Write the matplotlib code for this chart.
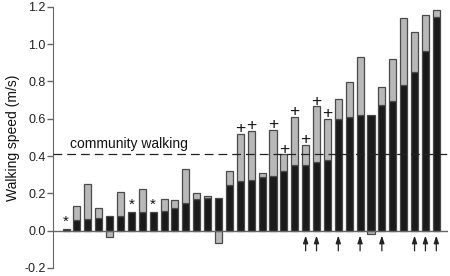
import numpy as np
import matplotlib
matplotlib.use("Agg")
import matplotlib.pyplot as plt

plt.rcParams['font.family'] = ['Liberation Sans', 'DejaVu Sans']

# baseline walking speed (black) and change after training (gray)
baseline = [0.008, 0.060, 0.064, 0.070, 0.078, 0.078, 0.098, 0.098, 0.100, 0.105,
            0.120, 0.149, 0.172, 0.176, 0.178, 0.245, 0.268, 0.272, 0.286, 0.295,
            0.318, 0.354, 0.354, 0.366, 0.380, 0.601, 0.612, 0.620, 0.622, 0.676,
            0.693, 0.782, 0.850, 0.964, 1.148]
change = [0.0, 0.070, 0.186, 0.050, -0.032, 0.132, 0.0, 0.128, 0.0, 0.065,
          0.044, 0.181, 0.032, 0.012, -0.064, 0.075, 0.253, 0.263, 0.023, 0.244,
          0.091, 0.258, 0.105, 0.301, 0.221, 0.107, 0.183, 0.312, -0.018, 0.096,
          0.226, 0.356, 0.213, 0.192, 0.036]
star_idx = [0, 6, 8]
plus_idx = [16, 17, 19, 20, 21, 22, 23, 24]
arrow_idx = [22, 23, 25, 27, 29, 32, 33, 34]
community_speed = 0.41
yticks = [-0.2, 0.0, 0.2, 0.4, 0.6, 0.8, 1.0, 1.2]

fig = plt.figure(figsize=(4.5, 2.76), dpi=100)
ax = fig.add_axes([0.118, 0.029, 0.877, 0.946])

x = np.arange(len(baseline))
base = np.array(baseline)
chg = np.array(change)
w = 0.65
edge = '#4a4a4a'

ax.bar(x, base, width=w, color='#1a1a1a', edgecolor=edge, linewidth=0.9, zorder=3)
pos = chg > 0
ax.bar(x[pos], chg[pos], bottom=base[pos], width=w, color='#b8b8b8',
       edgecolor=edge, linewidth=0.9, zorder=3)
neg = chg < 0
ax.bar(x[neg], chg[neg], bottom=0, width=w, color='#b8b8b8',
       edgecolor=edge, linewidth=0.9, zorder=3)

top = base + np.clip(chg, 0, None)
for i in star_idx:
    ax.text(x[i], top[i] + 0.004, '*', ha='center', va='bottom', fontsize=11, color='#111')
for i in plus_idx:
    ax.text(x[i], top[i] - 0.012, '+', ha='center', va='bottom', fontsize=12.5, color='#111')
for i in arrow_idx:
    ax.annotate('', xy=(x[i], -0.026), xytext=(x[i], -0.108),
                arrowprops=dict(arrowstyle='-|>,head_length=0.45,head_width=0.15',
                                color='#222', lw=0.9, shrinkA=0, shrinkB=0))

ax.axhline(community_speed, color='#222', lw=0.9, dashes=(7, 4), zorder=4)
ax.text(0.37, 0.445, 'community walking', fontsize=10, ha='left', va='baseline', color='#111')
ax.axhline(0, color='#666', lw=1.0, zorder=4)

ax.set_xlim(-1.19, 35.05)
ax.set_ylim(-0.2, 1.2)
ax.set_yticks(yticks)
ax.set_yticklabels([f'{v:.1f}' for v in yticks])
ax.set_xticks([])
for s in ['top', 'right', 'bottom']:
    ax.spines[s].set_visible(False)
ax.spines['left'].set_color('#666')
ax.tick_params(axis='y', direction='out', length=4, width=1, color='#666',
               labelsize=9, labelcolor='#222', pad=1.5)
ax.set_ylabel('Walking speed (m/s)', fontsize=10, color='#111', labelpad=3)

fig.savefig('out.png', dpi=100)
